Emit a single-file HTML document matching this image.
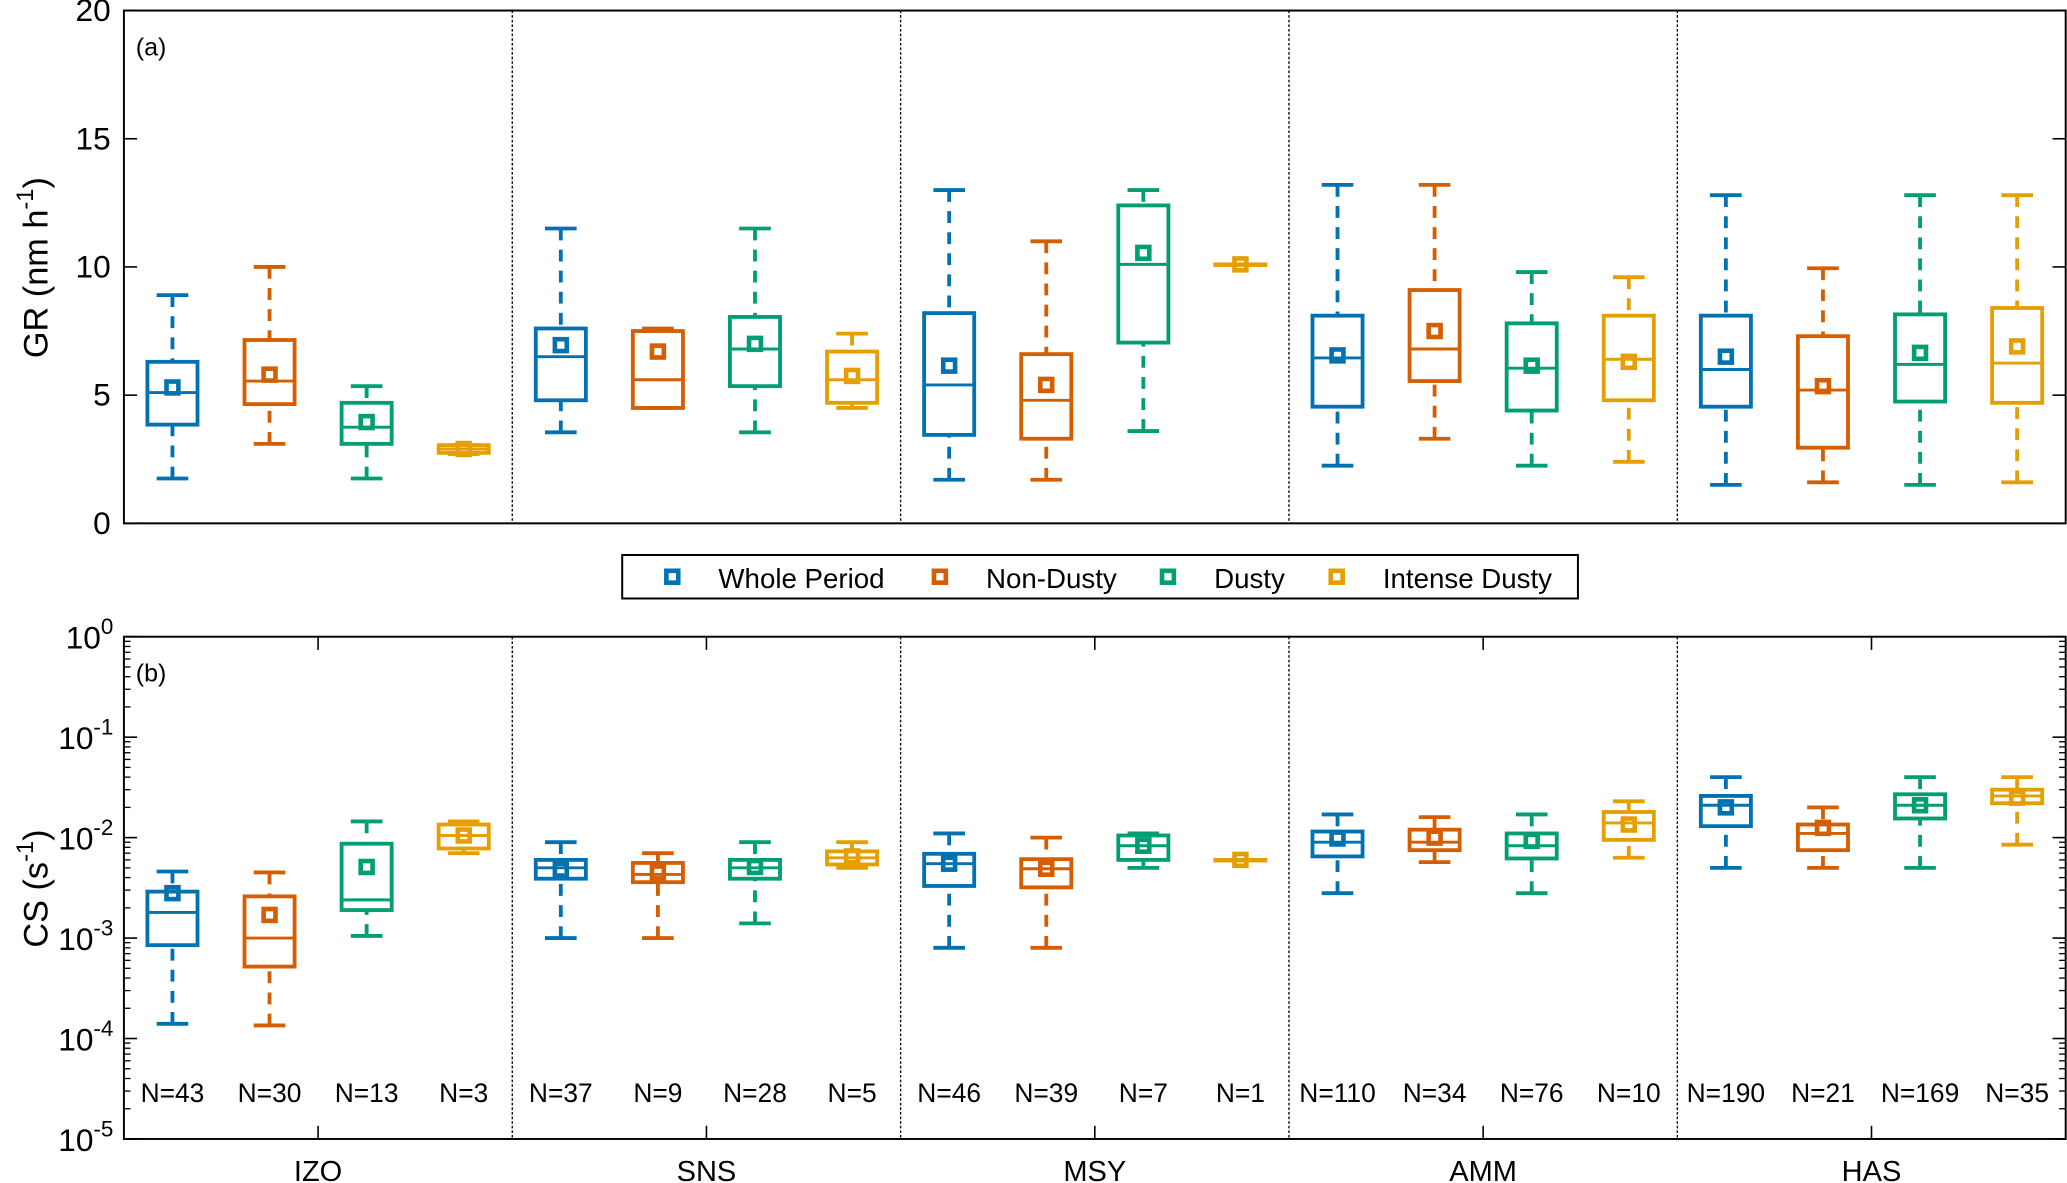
<!DOCTYPE html>
<html><head><meta charset="utf-8">
<style>
html,body{margin:0;padding:0;background:#fff;}
svg{display:block;font-family:"Liberation Sans",Arial,sans-serif;}
</style></head>
<body>
<svg id="chart" width="2067" height="1183" viewBox="0 0 1568 897.4" preserveAspectRatio="none" xmlns="http://www.w3.org/2000/svg"></svg>
<script>
const sites = ["IZO","SNS","MSY","AMM","HAS"];
const seriesNames = ["Whole Period","Non-Dusty","Dusty","Intense Dusty"];
const colors = ["#0072B2","#D55E00","#009E73","#E69F00"];
const nLabels = [[43,30,13,3],[37,9,28,5],[46,39,7,1],[110,34,76,10],[190,21,169,35]];
// GR stats per site per series: [whiskerLow, q1, median, q3, whiskerHigh, mean]
const grIZO = [[1.75,3.85,5.1,6.3,8.9,5.3],[3.1,4.65,5.55,7.15,10,5.8],[1.75,3.1,3.75,4.7,5.35,3.95],[2.7,2.75,2.9,3.05,3.05,2.9]];
const grSNS = [[3.55,4.8,6.5,7.6,11.5,6.95],[4.5,4.5,5.6,7.5,7.6,6.7],[3.55,5.35,6.8,8.05,11.5,7.0],[4.5,4.7,5.6,6.7,7.4,5.75]];
const grMSY = [[1.7,3.45,5.4,8.2,13,6.15],[1.7,3.3,4.8,6.6,11,5.4],[3.6,7.05,10.1,12.4,13,10.55],[10.1,10.1,10.1,10.1,10.1,10.1]];
const grAMM = [[2.25,4.55,6.45,8.1,13.2,6.55],[3.3,5.55,6.8,9.1,13.2,7.5],[2.25,4.4,6.05,7.8,9.8,6.15],[2.4,4.8,6.4,8.1,9.6,6.3]];
const grHAS = [[1.5,4.55,6.0,8.1,12.8,6.5],[1.6,2.95,5.2,7.3,9.95,5.35],[1.5,4.75,6.2,8.15,12.8,6.65],[1.6,4.7,6.25,8.4,12.8,6.9]];
const csIZO = [[1.4e-4,8.5e-4,1.8e-3,2.9e-3,4.6e-3,2.8e-3],[1.35e-4,5.2e-4,1e-3,2.6e-3,4.5e-3,1.7e-3],[1.05e-3,1.9e-3,2.4e-3,8.7e-3,1.45e-2,5.1e-3],[7e-3,7.8e-3,1.05e-2,1.35e-2,1.45e-2,1.05e-2]];
const csSNS = [[1e-3,3.9e-3,5e-3,6e-3,9e-3,4.8e-3],[1e-3,3.6e-3,4.3e-3,5.6e-3,7e-3,4.5e-3],[1.4e-3,3.9e-3,5e-3,6e-3,9e-3,5.1e-3],[5e-3,5.4e-3,6.3e-3,7.3e-3,9e-3,6.5e-3]];
const csMSY = [[8e-4,3.3e-3,5.5e-3,6.9e-3,1.1e-2,5.5e-3],[8e-4,3.2e-3,4.9e-3,6.1e-3,1e-2,4.9e-3],[5e-3,6e-3,8.3e-3,1.05e-2,1.1e-2,8.3e-3],[6e-3,6e-3,6e-3,6e-3,6e-3,6e-3]];
const csAMM = [[2.8e-3,6.5e-3,9e-3,1.15e-2,1.7e-2,9.8e-3],[5.7e-3,7.5e-3,9e-3,1.2e-2,1.6e-2,1e-2],[2.8e-3,6.2e-3,8.3e-3,1.1e-2,1.7e-2,9.3e-3],[6.3e-3,9.5e-3,1.4e-2,1.8e-2,2.3e-2,1.35e-2]];
const csHAS = [[5e-3,1.3e-2,2.1e-2,2.6e-2,4e-2,2e-2],[5e-3,7.5e-3,1.1e-2,1.35e-2,2e-2,1.25e-2],[5e-3,1.55e-2,2.1e-2,2.7e-2,4e-2,2.1e-2],[8.5e-3,2.2e-2,2.6e-2,3e-2,4e-2,2.5e-2]];
const grTicks = [0,5,10,15,20];
const csTickExps = [0,-1,-2,-3,-4,-5];

const grData = [grIZO,grSNS,grMSY,grAMM,grHAS];
const csData = [csIZO,csSNS,csMSY,csAMM,csHAS];
const NS="http://www.w3.org/2000/svg";
const svg=document.getElementById('chart');
const L=94,R=1567,W=R-L,GW=W/5;
const A={top:8,bot:397}, B={top:483,bot:864};
function yA(v){return A.bot-(v/20)*(A.bot-A.top);}
function yB(v){return B.top+(-Math.log10(v))/5*(B.bot-B.top);}
function xC(g,s){return L+g*GW+(s+0.5)*GW/4;}
function el(tag,attrs,parent){const e=document.createElementNS(NS,tag);for(const k in attrs)e.setAttribute(k,attrs[k]);(parent||svg).appendChild(e);return e;}
function txt(x,y,s,size,anchor,parent){const t=el('text',{x:x,y:y,'font-size':size,'text-anchor':anchor||'middle',fill:'#000'},parent);t.textContent=s;return t;}

function drawPanel(P,data,yf,name){
  const g=el('g',{});
  
  
  for(let i=1;i<5;i++){const d=el('line',{x1:L+i*GW,x2:L+i*GW,y1:P.top,y2:P.bot,stroke:'#000','stroke-width':1,'stroke-dasharray':'2,1.5'},g);
    
    }
  for(let gi=0;gi<5;gi++)for(let s=0;s<4;s++){
    const st=data[gi][s],x=xC(gi,s),c=colors[s],hw=19,cw=12;
    const b=el('g',{stroke:c,'stroke-width':2.9,fill:'none'},g);
    
    
    const y0=yf(st[0]),y1=yf(st[1]),y2=yf(st[2]),y3=yf(st[3]),y4=yf(st[4]),ym=yf(st[5]);
    el('line',{x1:x,x2:x,y1:y0,y2:y1,'stroke-dasharray':'9,7'},b);
    el('line',{x1:x,x2:x,y1:y4,y2:y3,'stroke-dasharray':'9,7'},b);
    el('line',{x1:x-cw,x2:x+cw,y1:y0,y2:y0},b);
    el('line',{x1:x-cw,x2:x+cw,y1:y4,y2:y4},b);
    el('rect',{x:x-hw,y:y3,width:2*hw,height:Math.max(y1-y3,0.5)},b);
    el('line',{x1:x-hw,x2:x+hw,y1:y2,y2:y2,'stroke-width':2.2},b);
    el('rect',{x:x-4.5,y:ym-4.5,width:9,height:9,'stroke-width':3.5},b);
  }
  const f=el('rect',{x:L,y:P.top,width:W,height:P.bot-P.top,fill:'none',stroke:'#000','stroke-width':1.5});
  
  
}
drawPanel(A,grData,yA,'panel-a-gr');
drawPanel(B,csData,yB,'panel-b-cs');

grTicks.forEach(v=>{const y=yA(v);
  el('line',{x1:L,x2:L+10,y1:y,y2:y,stroke:'#000','stroke-width':1.2});
  el('line',{x1:R-10,x2:R,y1:y,y2:y,stroke:'#000','stroke-width':1.2});
  const t=txt(L-10,y+8,String(v),24,'end');
  
  
});
csTickExps.forEach(e=>{const y=yB(Math.pow(10,e));
  el('line',{x1:L,x2:L+10,y1:y,y2:y,stroke:'#000','stroke-width':1.2});
  el('line',{x1:R-10,x2:R,y1:y,y2:y,stroke:'#000','stroke-width':1.2});
  if(e>-5){for(let m=2;m<10;m++){const ym=yB(m*Math.pow(10,e-1));
    el('line',{x1:L,x2:L+5,y1:ym,y2:ym,stroke:'#000','stroke-width':1});
    el('line',{x1:R-5,x2:R,y1:ym,y2:ym,stroke:'#000','stroke-width':1});}}
  const t=el('text',{x:L-8,y:y+9,'font-size':24,'text-anchor':'end'});
  
  
  const t1=document.createElementNS(NS,'tspan');t1.textContent='10';t.appendChild(t1);
  const t2=document.createElementNS(NS,'tspan');t2.setAttribute('dy','-11');t2.setAttribute('font-size','17');t2.textContent=String(e);t.appendChild(t2);
});
sites.forEach((s,gi)=>{const x=L+(gi+0.5)*GW;
  el('line',{x1:x,x2:x,y1:B.top,y2:B.top+10,stroke:'#000','stroke-width':1.2});
  el('line',{x1:x,x2:x,y1:B.bot-10,y2:B.bot,stroke:'#000','stroke-width':1.2});
  const t=txt(x,896,s,22);
  
  
  for(let k=0;k<4;k++){const n=txt(xC(gi,k),836,'N='+nLabels[gi][k],20);
    
    }
});
const pa=txt(103,42,'(a)',19,'start');
const pb=txt(103,517,'(b)',19,'start');
const ta=el('text',{transform:'translate(36,203) rotate(-90)','font-size':26,'text-anchor':'middle'});


ta.innerHTML='GR (nm h<tspan dy="-11" font-size="18">-1</tspan><tspan dy="11">)</tspan>';
const tb=el('text',{transform:'translate(36,674) rotate(-90)','font-size':26,'text-anchor':'middle'});


tb.innerHTML='CS (s<tspan dy="-11" font-size="18">-1</tspan><tspan dy="11">)</tspan>';
const lg=el('g',{});


el('rect',{x:472,y:421,width:725,height:33,fill:'#fff',stroke:'#000','stroke-width':1.5},lg);
const lx=[510,713,886,1014];
seriesNames.forEach((s,i)=>{
  const m=el('rect',{x:lx[i]-4.5,y:433,width:9,height:9,fill:'none',stroke:colors[i],'stroke-width':3.5},lg);
  
  
  const t=txt(lx[i]+35,446,s,21,'start',lg);
  
  
});
</script>
</body></html>
